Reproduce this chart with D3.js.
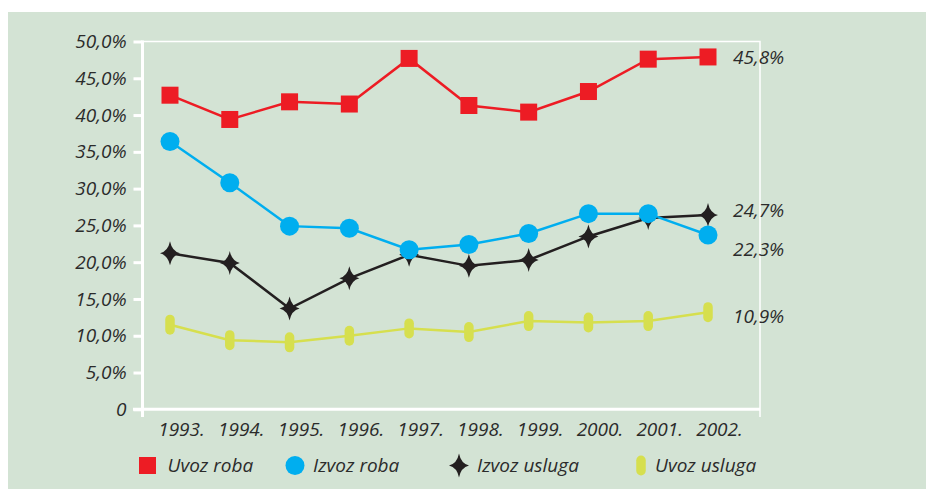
<!DOCTYPE html>
<html>
<head>
<meta charset="utf-8">
<script src="https://cdn.jsdelivr.net/npm/d3@7"></script>
<style>
  body { margin: 0; background: #fff; }
  text { font-family: "Open Sans", sans-serif; font-style: italic; fill: #2b2b2b; }
</style>
</head>
<body>
<svg id="chart" width="926" height="489"></svg>
<script>
const YEARS = [1993, 1994, 1995, 1996, 1997, 1998, 1999, 2000, 2001, 2002];
const UVOZ_ROBA = [42.7, 39.4, 41.8, 41.5, 47.7, 41.3, 40.4, 43.2, 47.6, 47.9];
const IZVOZ_ROBA = [36.4, 30.8, 24.9, 24.6, 21.7, 22.4, 23.9, 26.6, 26.6, 23.7];
const IZVOZ_USLUGA = [21.2, 19.9, 13.7, 17.8, 21.0, 19.5, 20.3, 23.5, 26.0, 26.4];
const UVOZ_USLUGA = [11.5, 9.4, 9.1, 10.0, 11.0, 10.5, 12.0, 11.8, 12.0, 13.2];
const Y_TICKS = [0, 5, 10, 15, 20, 25, 30, 35, 40, 45, 50];
const END_LABELS = ["45,8%", "24,7%", "22,3%", "10,9%"];
const END_LABEL_Y = [47.8, 27.0, 21.8, 12.7];
const SERIES_NAMES = ["Uvoz roba", "Izvoz roba", "Izvoz usluga", "Uvoz usluga"];

const SVG = d3.select("#chart");

// background panel
SVG.append("rect")
    .attr("x", 8).attr("y", 12)
    .attr("width", 918).attr("height", 477)
    .attr("fill", "#d3e3d4");

const X_SCALE = d3.scalePoint()
    .domain(YEARS)
    .range([170, 708]);

const Y_SCALE = d3.scaleLinear()
    .domain([0, 50])
    .range([409.3, 41.5]);

// top and right frame lines
SVG.append("path")
    .attr("d", "M142.5,41.5H760V417")
    .attr("fill", "none")
    .attr("stroke", "#fff")
    .attr("stroke-width", 1.5);

// y axis
const yAxis = SVG.append("g")
    .attr("transform", "translate(142.5,0)")
    .call(d3.axisLeft(Y_SCALE)
        .tickValues(Y_TICKS)
        .tickSize(9)
        .tickPadding(7)
        .tickFormat(d => d === 0 ? "0" : d3.format(".1f")(d).replace(".", ",") + "%"));
yAxis.select(".domain").remove();
yAxis.selectAll("line").attr("stroke", "#fff").attr("stroke-width", 3);
yAxis.selectAll("text").attr("font-size", 19).attr("fill", "#2b2b2b");

// axis lines
SVG.append("line")
    .attr("x1", 142.5).attr("x2", 142.5)
    .attr("y1", 40.5).attr("y2", 417)
    .attr("stroke", "#fff").attr("stroke-width", 3);
SVG.append("line")
    .attr("x1", 133).attr("x2", 760)
    .attr("y1", 409.3).attr("y2", 409.3)
    .attr("stroke", "#fff").attr("stroke-width", 3);

// x axis labels
const xAxis = SVG.append("g")
    .attr("transform", "translate(11,409.3)")
    .call(d3.axisBottom(X_SCALE)
        .tickSize(0)
        .tickPadding(13)
        .tickFormat(d => d + "."));
xAxis.select(".domain").remove();
xAxis.selectAll("text").attr("font-size", 19).attr("fill", "#2b2b2b");

// lines
const line = d3.line()
    .x((d, i) => X_SCALE(YEARS[i]))
    .y(d => Y_SCALE(d));

const SERIES = [
  {values: UVOZ_USLUGA, color: "#d6df4e"},
  {values: IZVOZ_USLUGA, color: "#231f20"},
  {values: IZVOZ_ROBA, color: "#00aeef"},
  {values: UVOZ_ROBA, color: "#ed1c24"}
];

SERIES.forEach(s => {
  SVG.append("path")
      .datum(s.values)
      .attr("d", line)
      .attr("fill", "none")
      .attr("stroke", s.color)
      .attr("stroke-width", 2.5);
});

const STAR = "M0,-12 Q2,-2 10,0 Q2,2 0,12 Q-2,2 -10,0 Q-2,-2 0,-12Z";

function drawMarker(g, kind, x, y) {
  if (kind === 0) {
    g.append("rect")
        .attr("x", x - 8.5).attr("y", y - 8.5)
        .attr("width", 17).attr("height", 17)
        .attr("fill", "#ed1c24");
  } else if (kind === 1) {
    g.append("circle")
        .attr("cx", x).attr("cy", y).attr("r", 9.5)
        .attr("fill", "#00aeef");
  } else if (kind === 2) {
    g.append("path")
        .attr("d", STAR)
        .attr("transform", "translate(" + x + "," + y + ")")
        .attr("fill", "#231f20");
  } else {
    g.append("rect")
        .attr("x", x - 4.75).attr("y", y - 10)
        .attr("width", 9.5).attr("height", 20)
        .attr("rx", 4.75)
        .attr("fill", "#d6df4e");
  }
}

// markers
const MARKS = SVG.append("g");
UVOZ_USLUGA.forEach((v, i) => drawMarker(MARKS, 3, X_SCALE(YEARS[i]), Y_SCALE(v)));
IZVOZ_USLUGA.forEach((v, i) => drawMarker(MARKS, 2, X_SCALE(YEARS[i]), Y_SCALE(v)));
IZVOZ_ROBA.forEach((v, i) => drawMarker(MARKS, 1, X_SCALE(YEARS[i]), Y_SCALE(v)));
UVOZ_ROBA.forEach((v, i) => drawMarker(MARKS, 0, X_SCALE(YEARS[i]), Y_SCALE(v)));

// end labels
SVG.selectAll(".endlabel")
    .data(END_LABELS)
    .enter()
    .append("text")
      .attr("class", "endlabel")
      .attr("x", 733)
      .attr("y", (d, i) => Y_SCALE(END_LABEL_Y[i]))
      .attr("dy", "0.35em")
      .attr("font-size", 19)
      .text(d => d);

// legend
const LEGEND_X = [147.5, 295, 459, 641];
const legend = SVG.append("g");
SERIES_NAMES.forEach((name, i) => {
  drawMarker(legend, i, LEGEND_X[i], 465.5);
  legend.append("text")
      .attr("x", LEGEND_X[i] + (i === 0 ? 20 : i === 3 ? 14 : 18))
      .attr("y", 465.5)
      .attr("dy", "0.35em")
      .attr("font-size", 19)
      .text(name);
});
</script>
</body>
</html>
